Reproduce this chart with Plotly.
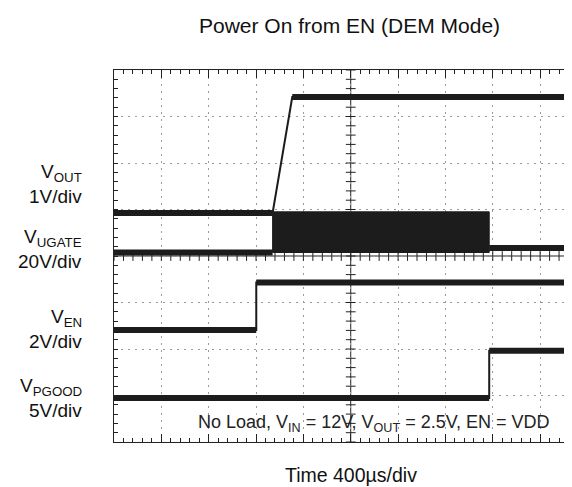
import plotly.graph_objects as go
import numpy as np

# ---- data (time in µs, levels in screen divisions, 8 div tall) ----
x_max_us = 3937          # visible part of the 10-div (4000 µs) screen
us_per_div = 400

vout_t = [0, 1340, 1506, 3937]
vout_v = [4.925, 4.925, 7.42, 7.42]

ugate_t = [0, 1340, 3170, 3937]
ugate_v = [4.075, 4.075, 4.17, 4.17]
burst_start, burst_end = 1340, 3170
burst_low, burst_high = 4.075, 4.95

ven_t = [0, 1202, 1202, 3937]
ven_v = [2.41, 2.41, 3.43, 3.43]

pgood_t = [0, 3170, 3170, 3937]
pgood_v = [0.946, 0.946, 1.965, 1.965]

ground_levels = [4.925, 2.41, 0.946]   # VOUT, VEN, VPGOOD markers
ugate_marker_level = 4.0

labels = [("V<sub>OUT</sub>", "1V/div", 164.5, 188),
          ("V<sub>UGATE</sub>", "20V/div", 229.5, 253),
          ("V<sub>EN</sub>", "2V/div", 309.5, 333),
          ("V<sub>PGOOD</sub>", "5V/div", 378.5, 402)]

title = "Power On from EN (DEM Mode)"
xlabel = "Time 400µs/div"
note = "No Load, V<sub>IN</sub> = 12V, V<sub>OUT</sub> = 2.5V, EN = VDD"

# ---- figure geometry ----
W, H = 572, 487
ML, MR, MT, MB = 106, 0, 62, 53
PH = H - MT - MB
TRACE = "#1c1c1c"
FONT = "Liberation Sans, Arial, sans-serif"

fig = go.Figure()

# center cross-hair tick marks
cx = 5 * us_per_div
hx = np.arange(0, x_max_us, us_per_div / 5)
fig.add_trace(go.Scatter(
    x=hx, y=[4] * len(hx),
    mode="markers", marker=dict(symbol="line-ns", size=7, line=dict(width=1, color="#222")),
    hoverinfo="skip", showlegend=False))
vy = np.linspace(0, 8, 41)
fig.add_trace(go.Scatter(
    x=[cx] * len(vy), y=vy,
    mode="markers", marker=dict(symbol="line-ew", size=7, line=dict(width=1, color="#222")),
    hoverinfo="skip", showlegend=False))

# UGATE switching burst (solid block)
fig.add_trace(go.Scatter(
    x=[burst_start, burst_end, burst_end, burst_start, burst_start],
    y=[burst_low, burst_low, burst_high, burst_high, burst_low],
    mode="lines", fill="toself", fillcolor=TRACE, line=dict(color=TRACE, width=1),
    hoverinfo="skip", showlegend=False))


def add_channel(t, v):
    fig.add_trace(go.Scatter(x=t, y=v, mode="lines",
                             line=dict(color=TRACE, width=2),
                             hoverinfo="skip", showlegend=False))
    sx, sy = [], []
    for i in range(len(t) - 1):
        if v[i] == v[i + 1]:
            sx += [t[i], t[i + 1], None]
            sy += [v[i], v[i + 1], None]
    fig.add_trace(go.Scatter(x=sx, y=sy, mode="lines",
                             line=dict(color=TRACE, width=6),
                             hoverinfo="skip", showlegend=False))


add_channel(vout_t, vout_v)
# UGATE: flat parts outside the burst
fig.add_trace(go.Scatter(x=[ugate_t[0], ugate_t[1], None, ugate_t[2], ugate_t[3]],
                         y=[ugate_v[0], ugate_v[1], None, ugate_v[2], ugate_v[3]],
                         mode="lines", line=dict(color=TRACE, width=6),
                         hoverinfo="skip", showlegend=False))
add_channel(ven_t, ven_v)
add_channel(pgood_t, pgood_v)

# channel ground markers on the left
px_us = us_per_div / 47.35
fig.add_trace(go.Scatter(x=[-6 * px_us] * len(ground_levels), y=ground_levels, mode="markers",
                         marker=dict(symbol="triangle-right", size=5, color="#666"),
                         cliponaxis=False, hoverinfo="skip", showlegend=False))
fig.add_trace(go.Scatter(x=[-5 * px_us], y=[ugate_marker_level], mode="markers",
                         marker=dict(symbol="square", size=10, color=TRACE),
                         cliponaxis=False, hoverinfo="skip", showlegend=False))

# center lines
fig.add_shape(type="line", x0=cx, x1=cx, y0=0, y1=8, xref="x", yref="y",
              line=dict(color="#222", width=1), layer="below")
fig.add_shape(type="line", x0=0, x1=x_max_us, y0=4, y1=4, xref="x", yref="y",
              line=dict(color="#222", width=1), layer="below")


def py2paper(py):
    return (H - MB - py) / PH


ann = []
for main, scale, y1, y2 in labels:
    for txt, py in ((main, y1), (scale, y2)):
        ann.append(dict(text=txt, x=0, xshift=75 - ML, xanchor="right", xref="paper",
                        y=py2paper(py), yref="paper", yanchor="middle", showarrow=False,
                        borderpad=0,
                        font=dict(size=19, color="#111", family=FONT)))
ann.append(dict(text=title, x=(341 - ML) / (W - ML - MR), xref="paper", xanchor="center",
                y=py2paper(17), yref="paper", yanchor="middle", showarrow=False,
                font=dict(size=21, color="#111", family=FONT)))
ann.append(dict(text=xlabel, x=(343 - ML) / (W - ML - MR), xref="paper", xanchor="center",
                y=py2paper(467), yref="paper", yanchor="middle", showarrow=False,
                borderpad=0,
                font=dict(size=19.5, color="#111", family=FONT)))
ann.append(dict(text=note, x=(189 - ML) / (W - ML - MR), xref="paper", xanchor="left",
                y=py2paper(415), yref="paper", yanchor="middle", showarrow=False,
                borderpad=0,
                font=dict(size=18, color="#222", family=FONT)))

fig.update_layout(
    width=W, height=H, margin=dict(l=ML, r=MR, t=MT, b=MB),
    paper_bgcolor="white", plot_bgcolor="white",
    annotations=ann, showlegend=False,
    xaxis=dict(range=[0, x_max_us], dtick=us_per_div, tick0=0, showgrid=True,
               gridcolor="#9a9a9a", griddash="2px,5px", gridwidth=1,
               zeroline=False, showticklabels=False,
               showline=True, linecolor="#222", linewidth=1, mirror="ticks",
               ticks="inside", ticklen=8, tickcolor="#222",
               minor=dict(dtick=us_per_div / 5, ticks="inside", ticklen=4, tickcolor="#222")),
    yaxis=dict(range=[0, 8], dtick=1, tick0=0, showgrid=True,
               gridcolor="#9a9a9a", griddash="2px,5px", gridwidth=1,
               zeroline=False, showticklabels=False,
               showline=True, linecolor="#222", linewidth=1, mirror=False,
               ticks="inside", ticklen=4, tickcolor="#222",
               minor=dict(dtick=0.2, ticks="inside", ticklen=4, tickcolor="#222")),
)

fig.write_html("out.html")
